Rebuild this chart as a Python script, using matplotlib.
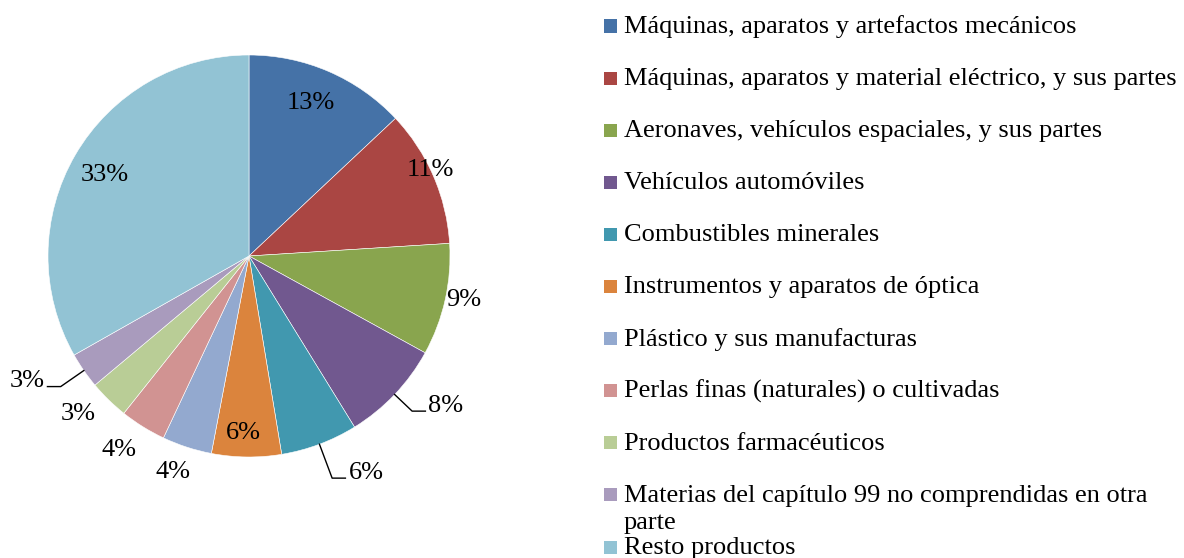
import matplotlib
matplotlib.use("Agg")
import matplotlib.pyplot as plt
from matplotlib.patches import Rectangle
import numpy as np

# shares of each product group (percent)
categories = [
    "Máquinas, aparatos y artefactos mecánicos",
    "Máquinas, aparatos y material eléctrico, y sus partes",
    "Aeronaves, vehículos espaciales, y sus partes",
    "Vehículos automóviles",
    "Combustibles minerales",
    "Instrumentos y aparatos de óptica",
    "Plástico y sus manufacturas",
    "Perlas finas (naturales) o cultivadas",
    "Productos farmacéuticos",
    "Materias del capítulo 99 no comprendidas en otra\nparte",
    "Resto productos",
]
shares = [13.0, 11.0, 9.0, 8.2, 6.2, 5.6, 4.0, 3.7, 3.2, 2.9, 33.2]
colors = ["#4572A7", "#AA4643", "#89A54E", "#71588F", "#4198AF", "#DB843D",
          "#93A9CF", "#D19392", "#B9CD96", "#A99BBD", "#92C3D4"]

# label placement: radius (pie units), angle tweak (deg), leader line side (0 = none)
label_r = [0.82, 1.0, 1.09, 1.12, 1.18, 0.88, 1.14, 1.16, 1.16, 1.14, 0.82]
label_dang = [-1.5, -2, -1, 0, 0, 1, 1.5, 2, 3, 0, -1]
leader = [0, 0, 0, 1, 1, 0, 0, 0, 0, -1, 0]

plt.rcParams["font.family"] = ["Liberation Serif", "DejaVu Serif"]
FS = 19

W, H = 1184, 558
fig = plt.figure(figsize=(W / 100, H / 100), dpi=100)
cx, cy, R = 249, 256, 201
ax = fig.add_axes([(cx - R) / W, (H - cy - R) / H, 2 * R / W, 2 * R / H])

wedges, _ = ax.pie(shares, colors=colors, startangle=90, counterclock=False,
                   radius=1.0, wedgeprops=dict(edgecolor="white", linewidth=0.4))
ax.set_xlim(-1, 1)
ax.set_ylim(-1, 1)
ax.set_aspect("equal")
ax.axis("off")

total = sum(shares)
cum = np.cumsum([0] + shares[:-1])
for i, s in enumerate(shares):
    mid = (cum[i] + s / 2) / total * 360  # degrees clockwise from top
    txt = f"{s / total * 100:.0f}%"
    if leader[i] == 0:
        a = np.radians(mid + label_dang[i])
        ax.text(label_r[i] * np.sin(a), label_r[i] * np.cos(a), txt,
                ha="center", va="center", fontsize=FS, color="black")
    else:
        # elbow leader line: radial piece then a short horizontal tail
        a = np.radians(mid)
        x0, y0 = 1.0 * np.sin(a), 1.0 * np.cos(a)
        x1, y1 = label_r[i] * np.sin(a), label_r[i] * np.cos(a)
        x2 = x1 + 0.066 * leader[i]
        ax.plot([x0, x1, x2], [y0, y1, y1], color="black", lw=1.0, clip_on=False)
        ax.text(x2 + 0.015 * leader[i], y1 + 0.028, txt,
                ha="left" if leader[i] > 0 else "right",
                va="center", fontsize=FS, color="black")

# legend drawn on the right
row0, step, line_gap = 26, 52.1, 27
for i, (lab, c) in enumerate(zip(categories, colors)):
    yc = row0 + i * step
    fig.patches.append(Rectangle((604 / W, 1 - (yc + 6.5) / H), 13 / W, 13 / H,
                                 transform=fig.transFigure, facecolor=c, edgecolor="none"))
    for k, line in enumerate(lab.split("\n")):
        fig.text(624 / W, 1 - (yc + 7 + k * line_gap) / H, line, ha="left",
                 va="baseline", fontsize=FS, color="black")

fig.savefig("out.png", dpi=100, facecolor="white")
